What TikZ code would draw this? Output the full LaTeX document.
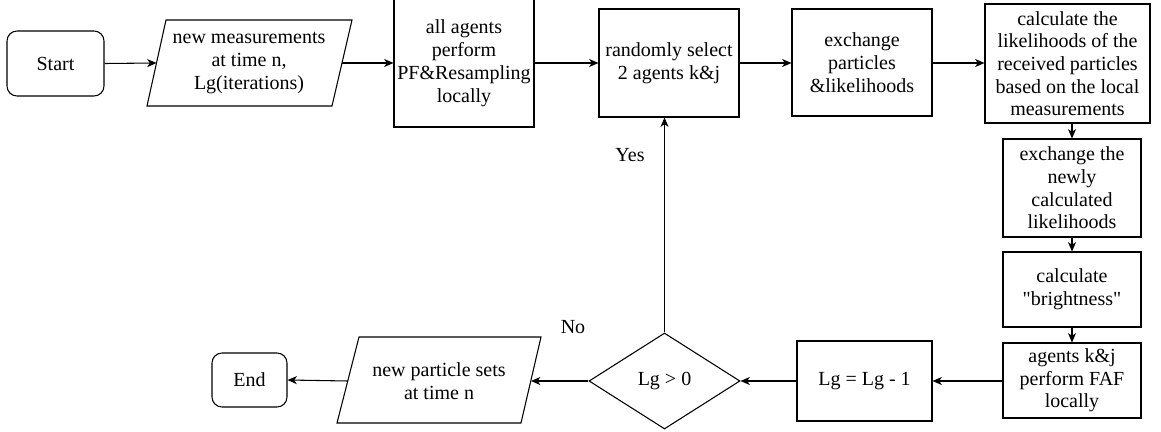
\documentclass[tikz,border=0pt]{standalone}
\usepackage{fontspec}
\newfontfamily\diagfont{Liberation Serif}[Ligatures=Common]
\usetikzlibrary{shapes.geometric,arrows.meta}

\tikzset{
  txt/.style={font=\diagfont\fontsize{15}{17.25}\selectfont, align=center, text=black, inner sep=0pt},
  procbox/.style={txt, draw=black, line width=0.8pt, rectangle},
  termbox/.style={procbox, rounded corners=7.5pt},
  decision/.style={txt, draw=black, line width=0.8pt, diamond, aspect=1.57},
  flow/.style={draw=black, line width=0.8pt, -{Stealth[length=7pt,width=6pt,inset=2pt]}},
  lbl/.style={txt}
}

\begin{document}
\begin{tikzpicture}[x=0.75pt,y=-0.75pt]
\useasboundingbox (0,0) rectangle (1161,432);

% top row
\node[termbox, minimum width=72.75pt, minimum height=48.75pt] (start) at (55.5,63.5) {Start};

\node[txt] (meas) at (249,63) {new measurements\\at time n,\\Lg(iterations)};
\draw[line width=0.8pt] (166,20) -- (352,20) -- (332,106) -- (147,106) -- cycle;
\coordinate (measin) at (156.5,63);
\coordinate (measout) at (342,63);

\node[procbox, minimum width=105pt, minimum height=96pt] (pf) at (464,63) {all agents\\perform\\PF\&Resampling\\locally};
\node[procbox, minimum width=105pt, minimum height=81pt] (sel) at (669,63) {randomly select\\2 agents k\&j};
\node[procbox, minimum width=105pt, minimum height=80.25pt] (exch) at (862,62.5) {exchange\\particles\\\&likelihoods};
\node[procbox, minimum width=123.75pt, minimum height=89.25pt, font=\diagfont\fontsize{15}{17}\selectfont] (calc) at (1067.5,63.5) {calculate the\\likelihoods of the\\received particles\\based on the local\\measurements};

% right column
\node[procbox, minimum width=103.5pt, minimum height=73.5pt, font=\diagfont\fontsize{15}{17}\selectfont] (newly) at (1072,188) {exchange the\\newly\\calculated\\likelihoods};
\node[procbox, minimum width=103.5pt, minimum height=56.25pt] (bright) at (1072,289.5) {calculate\\"brightness"};
\node[procbox, minimum width=103.5pt, minimum height=56.25pt, font=\diagfont\fontsize{15}{17}\selectfont] (faf) at (1072,380.5) {agents k\&j\\perform FAF\\locally};

% bottom row
\node[procbox, minimum width=101.25pt, minimum height=60pt] (dec) at (864.5,381) {Lg = Lg - 1};
\node[decision, minimum width=113.25pt, minimum height=72pt] (test) at (664.5,381) {Lg > 0};

\node[txt] (sets) at (439,381) {new particle sets\\at time n};
\draw[line width=0.8pt] (359,337) -- (541,337) -- (521,423) -- (337,423) -- cycle;
\coordinate (setsin) at (531,381);
\coordinate (setsout) at (348,381);

\node[termbox, minimum width=56.25pt, minimum height=40.5pt] (end) at (249.5,380) {End};

% connectors
\draw[flow] (start.east) -- (measin);
\draw[flow] (measout) -- (pf.west |- measout);
\draw[flow] (pf.east |- sel.west) -- (sel.west);
\draw[flow] (sel.east) -- (exch.west |- sel.east);
\draw[flow] (exch.east |- sel.east) -- (calc.west |- sel.east);
\draw[flow] (calc.south -| newly.north) -- (newly.north);
\draw[flow] (newly.south) -- (bright.north);
\draw[flow] (bright.south) -- (faf.north);
\draw[flow] (faf.west |- dec.east) -- (dec.east);
\draw[flow] (dec.west) -- (test.east);
\draw[flow] (test.west) -- (setsin);
\draw[flow] (setsout) -- (end.east);
\draw[flow] (test.north) -- (test.north |- sel.south);

% branch labels
\node[lbl] (yes) at (630,155) {Yes};
\node[lbl] (no) at (573,327) {No};
\end{tikzpicture}
\end{document}
